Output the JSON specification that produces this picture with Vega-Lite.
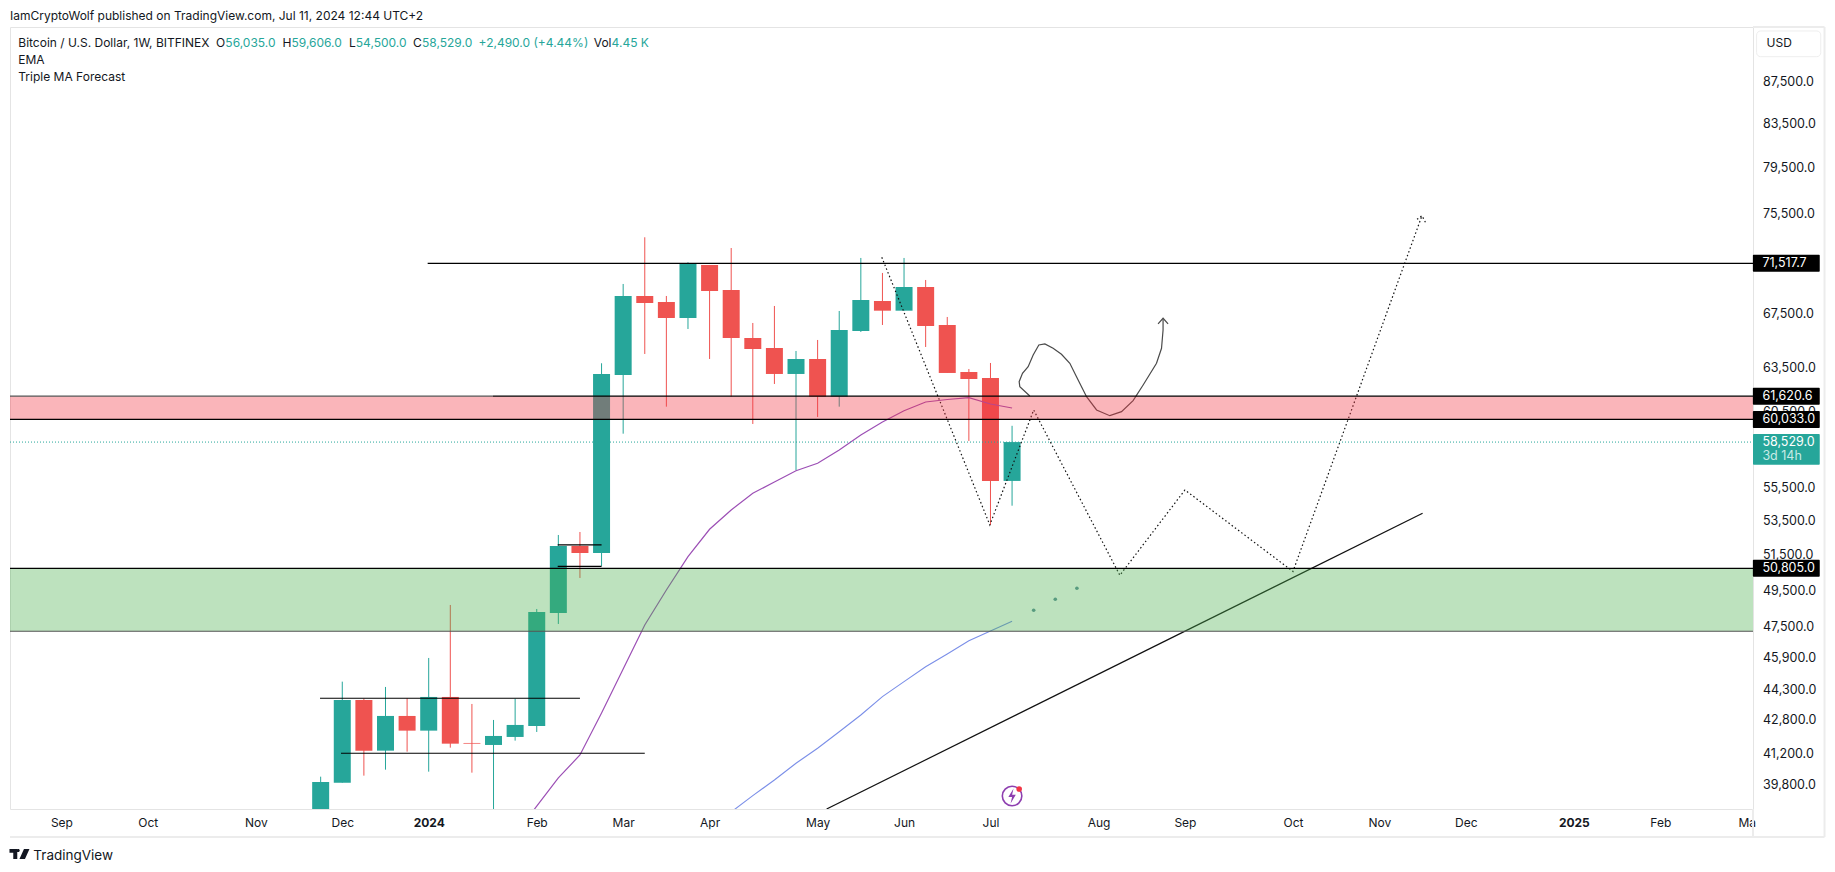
{
  "$schema": "https://vega.github.io/schema/vega-lite/v6.json",
  "width": 1743,
  "height": 782,
  "autosize": "none",
  "padding": {"left": 10, "top": 27, "right": 82, "bottom": 63},
  "background": "#ffffff",
  "view": {"stroke": "#e4e4e4"},
  "config": {"text": {"font": "Inter", "fontSize": 12, "baseline": "middle", "align": "left"}},
  "datasets": {
    "candles": [
      {"t":"2023-11-27","o":36900,"h":40222,"l":36500,"c":39984,"dir":"up"},
      {"t":"2023-12-04","o":39953,"h":44743,"l":39953,"c":43834,"dir":"up"},
      {"t":"2023-12-11","o":43834,"h":43900,"l":40268,"c":41412,"dir":"down"},
      {"t":"2023-12-18","o":41412,"h":44478,"l":40539,"c":43055,"dir":"up"},
      {"t":"2023-12-25","o":43055,"h":43918,"l":41366,"c":42352,"dir":"down"},
      {"t":"2024-01-01","o":42352,"h":45947,"l":40448,"c":43982,"dir":"up"},
      {"t":"2024-01-08","o":43982,"h":48759,"l":41552,"c":41738,"dir":"down"},
      {"t":"2024-01-15","o":41771,"h":43638,"l":40403,"c":41738,"dir":"down"},
      {"t":"2024-01-22","o":41677,"h":42862,"l":38500,"c":42100,"dir":"up"},
      {"t":"2024-01-29","o":42053,"h":43898,"l":41880,"c":42623,"dir":"up"},
      {"t":"2024-02-05","o":42575,"h":48541,"l":42289,"c":48378,"dir":"up"},
      {"t":"2024-02-12","o":48324,"h":52740,"l":47732,"c":52094,"dir":"up"},
      {"t":"2024-02-19","o":52094,"h":52917,"l":50258,"c":51686,"dir":"down"},
      {"t":"2024-02-26","o":51686,"h":63935,"l":50939,"c":63173,"dir":"up"},
      {"t":"2024-03-04","o":63101,"h":69879,"l":59083,"c":68945,"dir":"up"},
      {"t":"2024-03-11","o":68945,"h":73635,"l":64605,"c":68406,"dir":"down"},
      {"t":"2024-03-18","o":68483,"h":68945,"l":60899,"c":67266,"dir":"down"},
      {"t":"2024-03-25","o":67266,"h":71599,"l":66441,"c":71519,"dir":"up"},
      {"t":"2024-04-01","o":71384,"h":71384,"l":64244,"c":69332,"dir":"down"},
      {"t":"2024-04-08","o":69410,"h":72755,"l":61585,"c":65774,"dir":"down"},
      {"t":"2024-04-15","o":65774,"h":66890,"l":59729,"c":64968,"dir":"down"},
      {"t":"2024-04-22","o":65041,"h":68177,"l":62468,"c":63173,"dir":"down"},
      {"t":"2024-04-29","o":63173,"h":64823,"l":56708,"c":64244,"dir":"up"},
      {"t":"2024-05-06","o":64244,"h":65627,"l":60199,"c":61585,"dir":"down"},
      {"t":"2024-05-13","o":61585,"h":67795,"l":60899,"c":66367,"dir":"up"},
      {"t":"2024-05-20","o":66292,"h":71947,"l":66218,"c":68637,"dir":"up"},
      {"t":"2024-05-27","o":68560,"h":70747,"l":66740,"c":67818,"dir":"down"},
      {"t":"2024-06-03","o":67818,"h":71947,"l":67818,"c":69645,"dir":"up"},
      {"t":"2024-06-10","o":69645,"h":70193,"l":65113,"c":66665,"dir":"down"},
      {"t":"2024-06-17","o":66740,"h":67341,"l":63244,"c":63244,"dir":"down"},
      {"t":"2024-06-24","o":63314,"h":63527,"l":58601,"c":62819,"dir":"down"},
      {"t":"2024-07-01","o":62889,"h":63956,"l":53335,"c":56035,"dir":"down"},
      {"t":"2024-07-08","o":56035,"h":59606,"l":54500,"c":58529,"dir":"up"}
    ],
    "ema": [
      {"t":"2024-01-29","p":37675},{"t":"2024-02-05","p":38919},{"t":"2024-02-12","p":40164},
      {"t":"2024-02-19","p":41212},{"t":"2024-02-26","p":43200},{"t":"2024-03-04","p":45384},
      {"t":"2024-03-11","p":47678},{"t":"2024-03-18","p":49586},{"t":"2024-03-25","p":51473},
      {"t":"2024-04-01","p":53078},{"t":"2024-04-08","p":54239},{"t":"2024-04-15","p":55264},
      {"t":"2024-04-22","p":55968},{"t":"2024-04-29","p":56682},{"t":"2024-05-06","p":57154},
      {"t":"2024-05-13","p":58013},{"t":"2024-05-20","p":58997},{"t":"2024-05-27","p":59863},
      {"t":"2024-06-03","p":60626},{"t":"2024-06-10","p":61220},{"t":"2024-06-17","p":61392},
      {"t":"2024-06-24","p":61516},{"t":"2024-07-01","p":61083},{"t":"2024-07-08","p":60810}
    ],
    "slowMa": [
      {"t":"2024-04-08","p":38661},{"t":"2024-04-15","p":39374},{"t":"2024-04-22","p":40074},
      {"t":"2024-04-29","p":40831},{"t":"2024-05-06","p":41523},{"t":"2024-05-13","p":42302},
      {"t":"2024-05-20","p":43101},{"t":"2024-05-27","p":43996},{"t":"2024-06-03","p":44743},
      {"t":"2024-06-10","p":45500},{"t":"2024-06-17","p":46153},{"t":"2024-06-24","p":46847},
      {"t":"2024-07-01","p":47359},{"t":"2024-07-08","p":47877}
    ],
    "forecast": [
      {"t":"2024-07-15","p":48471},{"t":"2024-07-22","p":49072},{"t":"2024-07-29","p":49681}
    ],
    "trend": [
      {"t":"2024-05-08T22:00Z","p":38790},{"t":"2024-11-18T00:00Z","p":54039}
    ],
    "dotted": [
      {"g":"path","i":1,"t":"2024-05-26T19:00Z","p":72003},
      {"g":"path","i":2,"t":"2024-06-30T19:00Z","p":53335},
      {"g":"path","i":3,"t":"2024-07-15T00:00Z","p":60673},
      {"g":"path","i":4,"t":"2024-08-11T22:00Z","p":50410},
      {"g":"path","i":5,"t":"2024-09-02T00:00Z","p":55469},
      {"g":"path","i":6,"t":"2024-10-07T00:00Z","p":50625},
      {"g":"path","i":7,"t":"2024-11-17T19:00Z","p":75440},
      {"g":"head","i":1,"t":"2024-11-16T05:00Z","p":75135},
      {"g":"head","i":2,"t":"2024-11-17T19:00Z","p":75440},
      {"g":"head","i":3,"t":"2024-11-18T22:00Z","p":74883}
    ],
    "curve": [
      {"g":"path","i":1,"t":"2024-07-13T18:00Z","p":61633},
      {"g":"path","i":2,"t":"2024-07-10T12:00Z","p":62280},
      {"g":"path","i":3,"t":"2024-07-10T07:00Z","p":62629},
      {"g":"path","i":4,"t":"2024-07-11T09:00Z","p":63222},
      {"g":"path","i":5,"t":"2024-07-13T05:00Z","p":63692},
      {"g":"path","i":6,"t":"2024-07-14T20:00Z","p":64533},
      {"g":"path","i":7,"t":"2024-07-16T16:00Z","p":65260},
      {"g":"path","i":8,"t":"2024-07-18T15:00Z","p":65333},
      {"g":"path","i":9,"t":"2024-07-21T07:00Z","p":65019},
      {"g":"path","i":10,"t":"2024-07-24T00:00Z","p":64583},
      {"g":"path","i":11,"t":"2024-07-26T17:00Z","p":63935},
      {"g":"path","i":12,"t":"2024-07-28T21:00Z","p":62981},
      {"g":"path","i":13,"t":"2024-08-01T03:00Z","p":61585},
      {"g":"path","i":14,"t":"2024-08-04T09:00Z","p":60673},
      {"g":"path","i":15,"t":"2024-08-08T16:00Z","p":60287},
      {"g":"path","i":16,"t":"2024-08-12T11:00Z","p":60558},
      {"g":"path","i":17,"t":"2024-08-16T05:00Z","p":61309},
      {"g":"path","i":18,"t":"2024-08-19T11:00Z","p":62398},
      {"g":"path","i":19,"t":"2024-08-23T19:00Z","p":63935},
      {"g":"path","i":20,"t":"2024-08-25T10:00Z","p":65019},
      {"g":"path","i":21,"t":"2024-08-25T22:00Z","p":66367},
      {"g":"path","i":22,"t":"2024-08-25T22:00Z","p":67168},
      {"g":"head","i":1,"t":"2024-08-24T07:00Z","p":66815},
      {"g":"head","i":2,"t":"2024-08-25T22:00Z","p":67243},
      {"g":"head","i":3,"t":"2024-08-27T13:00Z","p":66815}
    ],
    "levels": [
      {"t":"2023-12-31T16:00Z","t2":"2025-03-05T01:00Z","p":71517.7},
      {"t":"2024-01-21T19:00Z","t2":"2025-03-05T01:00Z","p":61620.6},
      {"t":"2023-08-18T08:24Z","t2":"2025-03-05T01:00Z","p":60033},
      {"t":"2023-08-18T08:24Z","t2":"2025-03-05T01:00Z","p":50805},
      {"t":"2023-11-26T19:00Z","t2":"2024-02-19T00:00Z","p":43918},
      {"t":"2023-12-03T14:00Z","t2":"2024-03-11T00:00Z","p":41291},
      {"t":"2024-02-11T19:00Z","t2":"2024-02-26T00:00Z","p":52153},
      {"t":"2024-02-11T19:00Z","t2":"2024-02-26T00:00Z","p":50921}
    ],
    "mutedLevels": [
      {"t":"2023-08-18T08:24Z","t2":"2024-01-21T19:00Z","p":61620.6},
      {"t":"2023-08-18T08:24Z","t2":"2025-03-05T01:00Z","p":47343}
    ],
    "lastPrice": [
      {"t":"2023-08-18T08:24Z","t2":"2025-03-05T01:00Z","p":58529}
    ],
    "frame": [
      {"t":"2025-03-05T01:00Z","t2":"2025-03-28T05:00Z","p":93211,"p2":93211},
      {"t":"2025-03-28T05:00Z","t2":"2025-03-28T05:00Z","p":93211,"p2":37590},
      {"t":"2023-08-18T08:24Z","t2":"2025-03-28T05:00Z","p":37590,"p2":37590},
      {"t":"2025-03-05T01:00Z","t2":"2025-03-05T01:00Z","p":38790,"p2":37590}
    ],
    "blackTags": [
      {"p":71517.7,"label":"71,517.7"},
      {"p":61620.6,"label":"61,620.6"},
      {"p":60033,"label":"60,033.0"},
      {"p":50805,"label":"50,805.0"}
    ],
    "darkText": [
      {"t":"2023-08-18T08:24Z","p":94399,"label":"IamCryptoWolf published on TradingView.com, Jul 11, 2024 12:44 UTC+2"},
      {"t":"2023-08-21T01:00Z","p":91585,"label":"Bitcoin / U.S. Dollar, 1W, BITFINEX"},
      {"t":"2023-10-24T02:00Z","p":91585,"label":"O"},
      {"t":"2023-11-14T16:00Z","p":91585,"label":"H"},
      {"t":"2023-12-06T04:00Z","p":91585,"label":"L"},
      {"t":"2023-12-26T22:00Z","p":91585,"label":"C"},
      {"t":"2024-02-23T11:00Z","p":91585,"label":"Vol"},
      {"t":"2023-08-21T01:00Z","p":89828,"label":"EMA"},
      {"t":"2023-08-21T01:00Z","p":88161,"label":"Triple MA Forecast"},
      {"t":"2025-03-09T10:00Z","p":91503,"label":"USD"}
    ],
    "tealText": [
      {"t":"2023-10-27T03:00Z","p":91585,"label":"56,035.0"},
      {"t":"2023-11-17T13:00Z","p":91585,"label":"59,606.0"},
      {"t":"2023-12-08T09:00Z","p":91585,"label":"54,500.0"},
      {"t":"2023-12-29T20:00Z","p":91585,"label":"58,529.0"},
      {"t":"2024-01-17T04:00Z","p":91585,"label":"+2,490.0 (+4.44%)"},
      {"t":"2024-02-29T06:00Z","p":91585,"label":"4.45 K"}
    ]
  },
  "layer": [
    {
      "data": {"name": "candles"},
      "mark": {"type": "rule", "strokeWidth": 1, "clip": true},
      "encoding": {
        "x": {
          "field": "t",
          "type": "temporal",
          "title": null,
          "scale": {"domain": ["2023-08-18T08:24:00Z", "2025-03-05T01:00:00Z"], "nice": false, "padding": 0},
          "axis": {
            "values": ["2023-09-04","2023-10-02","2023-11-06","2023-12-04","2024-01-01","2024-02-05","2024-03-04","2024-04-01","2024-05-06","2024-06-03","2024-07-01","2024-08-05","2024-09-02","2024-10-07","2024-11-04","2024-12-02","2025-01-06","2025-02-03","2025-03-03"],
            "labelExpr": "utcmonth(datum.value)==0 ? utcFormat(datum.value,'%Y') : utcyear(datum.value)==2025&&utcmonth(datum.value)==2 ? 'Ma' : utcFormat(datum.value,'%b')",
            "labelFontWeight": {"condition": {"test": "utcmonth(datum.value)==0", "value": "bold"}, "value": "normal"},
            "labelFont": "Inter",
            "labelFontSize": 12,
            "labelColor": "#131722",
            "labelPadding": 8,
            "labelOverlap": false,
            "labelFlush": false,
            "labelBound": false,
            "ticks": false,
            "domain": false,
            "grid": false
          }
        },
        "y": {
          "field": "l",
          "type": "quantitative",
          "title": null,
          "scale": {"type": "log", "domain": [38790, 93211], "nice": false, "padding": 0},
          "axis": {
            "orient": "right",
            "values": [39800,41200,42800,44300,45900,47500,49500,51500,53500,55500,60500,63500,67500,75500,79500,83500,87500],
            "format": ",.1f",
            "labelFont": "Inter",
            "labelFontSize": 12.5,
            "labelColor": "#131722",
            "labelPadding": 9.5,
            "labelOffset": -1.5,
            "labelOverlap": false,
            "labelBound": false,
            "labelFlush": false,
            "ticks": false,
            "domain": false,
            "grid": false
          }
        },
        "y2": {"field": "h"},
        "color": {
          "field": "dir",
          "type": "nominal",
          "scale": {"domain": ["up", "down"], "range": ["#26a69a", "#ef5350"]},
          "legend": null
        }
      }
    },
    {
      "data": {"name": "candles"},
      "mark": {"type": "bar", "size": 17, "orient": "vertical", "clip": true},
      "encoding": {
        "x": {"field": "t", "type": "temporal"},
        "y": {"field": "o", "type": "quantitative"},
        "y2": {"field": "c"},
        "color": {"field": "dir", "type": "nominal"}
      }
    },
    {
      "data": {"name": "slowMa"},
      "mark": {"type": "line", "color": "#7b8fe8", "strokeWidth": 1.1, "clip": true},
      "encoding": {
        "x": {"field": "t", "type": "temporal"},
        "y": {"field": "p", "type": "quantitative"}
      }
    },
    {
      "data": {"name": "ema"},
      "mark": {"type": "line", "color": "#9c4fb5", "strokeWidth": 1.2, "clip": true},
      "encoding": {
        "x": {"field": "t", "type": "temporal"},
        "y": {"field": "p", "type": "quantitative"}
      }
    },
    {
      "data": {"name": "forecast"},
      "mark": {"type": "point", "filled": true, "size": 13, "color": "#5f8f9c", "opacity": 1},
      "encoding": {
        "x": {"field": "t", "type": "temporal"},
        "y": {"field": "p", "type": "quantitative"}
      }
    },
    {
      "data": {"name": "lastPrice", "format": {"parse": {"t": "date", "t2": "date"}}},
      "mark": {"type": "rule", "color": "#26a69a", "strokeWidth": 1, "strokeDash": [1, 2]},
      "encoding": {
        "x": {"field": "t", "type": "temporal"},
        "x2": {"field": "t2"},
        "y": {"field": "p", "type": "quantitative"}
      }
    },
    {
      "data": {"name": "trend"},
      "mark": {"type": "line", "color": "#111111", "strokeWidth": 1.2, "clip": true},
      "encoding": {
        "x": {"field": "t", "type": "temporal"},
        "y": {"field": "p", "type": "quantitative"}
      }
    },
    {
      "data": {"name": "dotted"},
      "mark": {"type": "line", "color": "#111111", "strokeWidth": 1.2, "strokeDash": [1.5, 2.5], "clip": true},
      "encoding": {
        "x": {"field": "t", "type": "temporal"},
        "y": {"field": "p", "type": "quantitative"},
        "detail": {"field": "g"},
        "order": {"field": "i"}
      }
    },
    {
      "data": {"name": "curve"},
      "mark": {"type": "line", "color": "#4a4a4a", "strokeWidth": 1.2, "clip": true},
      "encoding": {
        "x": {"field": "t", "type": "temporal"},
        "y": {"field": "p", "type": "quantitative"},
        "detail": {"field": "g"},
        "order": {"field": "i"}
      }
    },
    {
      "data": {"values": [{"t": "2023-08-18T08:24:00Z", "t2": "2025-03-05T01:00:00Z", "p": 60033, "p2": 61620.6}], "format": {"parse": {"t": "date", "t2": "date"}}},
      "mark": {"type": "rect", "color": "#f23645", "opacity": 0.37},
      "encoding": {
        "x": {"field": "t", "type": "temporal"},
        "x2": {"field": "t2"},
        "y": {"field": "p", "type": "quantitative"},
        "y2": {"field": "p2"}
      }
    },
    {
      "data": {"values": [{"t": "2023-08-18T08:24:00Z", "t2": "2025-03-05T01:00:00Z", "p": 47343, "p2": 50805}], "format": {"parse": {"t": "date", "t2": "date"}}},
      "mark": {"type": "rect", "color": "#4caf50", "opacity": 0.37},
      "encoding": {
        "x": {"field": "t", "type": "temporal"},
        "x2": {"field": "t2"},
        "y": {"field": "p", "type": "quantitative"},
        "y2": {"field": "p2"}
      }
    },
    {
      "data": {"name": "mutedLevels", "format": {"parse": {"t": "date", "t2": "date"}}},
      "mark": {"type": "rule", "color": "#555555", "strokeWidth": 1.2},
      "encoding": {
        "x": {"field": "t", "type": "temporal"},
        "x2": {"field": "t2"},
        "y": {"field": "p", "type": "quantitative"}
      }
    },
    {
      "data": {"name": "levels", "format": {"parse": {"t": "date", "t2": "date"}}},
      "mark": {"type": "rule", "color": "#000000", "strokeWidth": 1.2},
      "encoding": {
        "x": {"field": "t", "type": "temporal"},
        "x2": {"field": "t2"},
        "y": {"field": "p", "type": "quantitative"}
      }
    },
    {
      "data": {"name": "frame", "format": {"parse": {"t": "date", "t2": "date"}}},
      "mark": {"type": "rule", "color": "#ececec", "strokeWidth": 2},
      "encoding": {
        "x": {"field": "t", "type": "temporal"},
        "x2": {"field": "t2"},
        "y": {"field": "p", "type": "quantitative"},
        "y2": {"field": "p2"}
      }
    },
    {
      "data": {"values": [{"t": "2025-03-06T05:00Z", "t2": "2025-03-27T00:00Z", "p": 90160, "p2": 92795}], "format": {"parse": {"t": "date", "t2": "date"}}},
      "mark": {"type": "rect", "fill": "#ffffff", "stroke": "#eeeeee", "cornerRadius": 4},
      "encoding": {
        "x": {"field": "t", "type": "temporal"},
        "x2": {"field": "t2"},
        "y": {"field": "p", "type": "quantitative"},
        "y2": {"field": "p2"}
      }
    },
    {
      "data": {"name": "blackTags"},
      "mark": {"type": "bar", "size": 17, "orient": "horizontal", "color": "#000000", "cornerRadius": 1},
      "encoding": {
        "x": {"datum": {"year": 2025, "month": 3, "date": 5}, "type": "temporal"},
        "x2": {"datum": {"year": 2025, "month": 3, "date": 26, "hours": 16}},
        "y": {"field": "p", "type": "quantitative"}
      }
    },
    {
      "data": {"values": [{"t": "2025-03-05T01:00Z", "t2": "2025-03-26T16:00Z", "p": 57065, "p2": 59063}], "format": {"parse": {"t": "date", "t2": "date"}}},
      "mark": {"type": "rect", "color": "#26a69a", "cornerRadius": 1},
      "encoding": {
        "x": {"field": "t", "type": "temporal"},
        "x2": {"field": "t2"},
        "y": {"field": "p", "type": "quantitative"},
        "y2": {"field": "p2"}
      }
    },
    {
      "data": {"values": [{"t": "2025-03-08T02:00Z", "p": 71517.7, "label": "71,517.7"}, {"t": "2025-03-08T02:00Z", "p": 61620.6, "label": "61,620.6"}, {"t": "2025-03-08T02:00Z", "p": 60033, "label": "60,033.0"}, {"t": "2025-03-08T02:00Z", "p": 50805, "label": "50,805.0"}, {"t": "2025-03-08T02:00Z", "p": 58529, "label": "58,529.0"}]},
      "mark": {"type": "text", "color": "#ffffff", "fontSize": 12.5},
      "encoding": {
        "x": {"field": "t", "type": "temporal"},
        "y": {"field": "p", "type": "quantitative"},
        "text": {"field": "label"}
      }
    },
    {
      "data": {"values": [{"t": "2025-03-08T02:00Z", "p": 57624, "label": "3d 14h"}]},
      "mark": {"type": "text", "color": "#c8ebe6", "fontSize": 12.5},
      "encoding": {
        "x": {"field": "t", "type": "temporal"},
        "y": {"field": "p", "type": "quantitative"},
        "text": {"field": "label"}
      }
    },
    {
      "data": {"name": "darkText"},
      "mark": {"type": "text", "color": "#131722"},
      "encoding": {
        "x": {"field": "t", "type": "temporal"},
        "y": {"field": "p", "type": "quantitative"},
        "text": {"field": "label"}
      }
    },
    {
      "data": {"name": "tealText"},
      "mark": {"type": "text", "color": "#26a69a"},
      "encoding": {
        "x": {"field": "t", "type": "temporal"},
        "y": {"field": "p", "type": "quantitative"},
        "text": {"field": "label"}
      }
    },
    {
      "data": {"values": [{"t": "2023-08-25T22:00Z", "p": 36801, "label": "TradingView"}]},
      "mark": {"type": "text", "color": "#131722", "fontSize": 13.5},
      "encoding": {
        "x": {"field": "t", "type": "temporal"},
        "y": {"field": "p", "type": "quantitative"},
        "text": {"field": "label"}
      }
    },
    {
      "data": {"values": [{"t": "2023-08-21T10:00Z", "p": 36879}]},
      "mark": {"type": "point", "filled": true, "opacity": 1, "color": "#131722", "size": 400, "shape": "M-1,-.5 H-.22 V.5 H-.62 V-.12 H-1 Z M-.12,-.5 A.15,.15 0 1 1 -.12,-.2 A.15,.15 0 1 1 -.12,-.5 Z M.45,-.5 H1 L.55,.5 H0 Z"},
      "encoding": {
        "x": {"field": "t", "type": "temporal"},
        "y": {"field": "p", "type": "quantitative"}
      }
    },
    {
      "data": {"values": [{"t": "2024-07-08", "p": 39361}]},
      "mark": {"type": "point", "shape": "circle", "filled": false, "opacity": 1, "color": "#8e3fb0", "strokeWidth": 1.6, "size": 380},
      "encoding": {
        "x": {"field": "t", "type": "temporal"},
        "y": {"field": "p", "type": "quantitative"}
      }
    },
    {
      "data": {"values": [{"t": "2024-07-08", "p": 39361}]},
      "mark": {"type": "point", "filled": true, "opacity": 1, "color": "#8e3fb0", "size": 220, "shape": "M.2,-1 L-.5,.15 L0,.15 L-.2,1 L.5,-.15 L0,-.15 Z"},
      "encoding": {
        "x": {"field": "t", "type": "temporal"},
        "y": {"field": "p", "type": "quantitative"}
      }
    },
    {
      "data": {"values": [{"t": "2024-07-10T07:00Z", "p": 39671}]},
      "mark": {"type": "point", "filled": true, "opacity": 1, "color": "#f23645", "size": 32},
      "encoding": {
        "x": {"field": "t", "type": "temporal"},
        "y": {"field": "p", "type": "quantitative"}
      }
    }
  ]
}
